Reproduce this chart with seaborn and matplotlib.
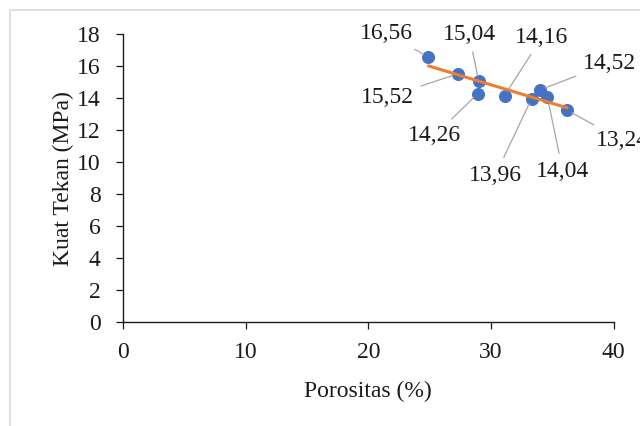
import numpy as np
import pandas as pd
import seaborn as sns
import matplotlib.pyplot as plt
from matplotlib.patches import Rectangle

# Data
porositas = [24.9, 27.3, 29.0, 28.9, 31.1, 33.3, 34.0, 34.6, 36.2]
kuat_tekan = [16.56, 15.52, 15.04, 14.26, 14.16, 13.96, 14.52, 14.04, 13.24]
labels = ["16,56", "15,52", "15,04", "14,26", "14,16", "13,96", "14,52", "14,04", "13,24"]
# label offsets (points) from each marker
label_dx = [-30, -51, -7, -31, 27, -26, 50, 11, 40]
label_dy = [17, -17, 34, -30, 42, -55, 19, -53, -22]

df = pd.DataFrame({"Porositas": porositas, "Kuat": kuat_tekan})

sns.set_theme(style="white")
plt.rcParams['font.family'] = ['Liberation Serif', 'DejaVu Serif']

FS = 17
fig = plt.figure(figsize=(6.4, 4.26), dpi=100)
ax = fig.add_axes([0.192, 0.244, 0.767, 0.676])

sns.regplot(data=df, x="Porositas", y="Kuat", ax=ax, ci=None,
            scatter_kws={"color": "#4472C4", "s": 70, "alpha": 1, "zorder": 3},
            line_kws={"color": "#ED7D31", "linewidth": 2.2, "zorder": 4})

for x, y, lab, dx, dy in zip(porositas, kuat_tekan, labels, label_dx, label_dy):
    ax.annotate(lab, xy=(x, y), xytext=(dx, dy), textcoords="offset points",
                ha="center", va="center", fontsize=FS, color="#1a1a1a",
                annotation_clip=False,
                arrowprops=dict(arrowstyle="-", color="#a6a6a6", lw=0.9,
                                shrinkA=3, shrinkB=4))

ax.set_xlim(0, 40)
ax.set_ylim(0, 18)
ax.set_xticks(range(0, 41, 10))
ax.set_yticks(range(0, 19, 2))
ax.tick_params(axis="both", labelsize=FS, colors="#1a1a1a", direction="out",
               length=5, width=0.9, bottom=True, left=True)
ax.tick_params(axis="y", pad=11)
ax.tick_params(axis="x", pad=9)
ax.set_xlabel("Porositas (%)", fontsize=FS, color="#1a1a1a", labelpad=13)
ax.set_ylabel("Kuat Tekan (MPa)", fontsize=FS, color="#1a1a1a", labelpad=2)
for s in ["top", "right"]:
    ax.spines[s].set_visible(False)
for s in ["left", "bottom"]:
    ax.spines[s].set_color("#1a1a1a")
    ax.spines[s].set_linewidth(1.0)

# light chart border
fig.patches.append(Rectangle((0.016, -0.1), 1.1, 1.076, transform=fig.transFigure,
                             fill=False, edgecolor="#d9d9d9", lw=1.2))

fig.savefig("out.png", dpi=100)
